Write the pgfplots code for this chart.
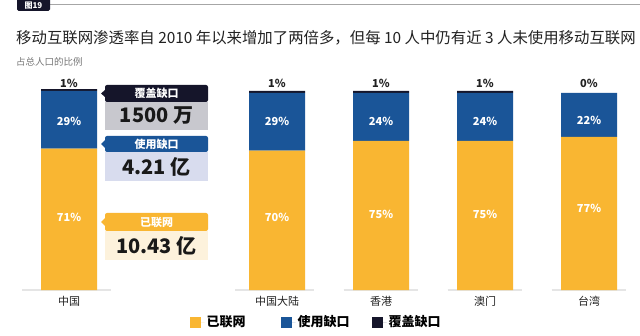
\documentclass[border=0pt]{standalone}
\usepackage{pgfplots}
\pgfplotsset{compat=1.18}
\usepackage{fontspec}
\setmainfont{Noto Sans CJK SC}
\definecolor{cyel}{HTML}{F9B632}
\definecolor{cblue}{HTML}{1A5598}
\definecolor{cdark}{HTML}{15152A}
\definecolor{cgraybox}{HTML}{C8C8CE}
\definecolor{clav}{HTML}{D8DCEE}
\definecolor{ccream}{HTML}{FDF2DC}
\definecolor{ctext}{HTML}{222222}
\definecolor{csub}{HTML}{777777}
\pgfplotsset{geom/.style={
  at={(17pt,45pt)}, anchor=south west, scale only axis,
  width=613.6pt, height=199pt,
  xmin=-0.5, xmax=5.4, ymin=0, ymax=100, clip=false}}
\begin{document}
\begin{tikzpicture}[x=1pt,y=1pt]
\useasboundingbox (0,0) rectangle (640,335);
\fill[white] (0,0) rectangle (640,335);
% badge and rule
\draw[gray!70, line width=0.8pt] (50,331) -- (640,331);
\fill[cdark, rounded corners=1.5pt] (17,324) rectangle (50,338);
\node[text=white, font=\bfseries\fontsize{8}{8}\selectfont] at (33.5,329.5) {图19};
% title
\node[anchor=west, inner sep=0, text=ctext, font=\fontsize{15.4}{15.4}\selectfont] at (16,297) {移动互联网渗透率自 2010 年以来增加了两倍多，但每 10 人中仍有近 3 人未使用移动互联网};
\node[anchor=west, inner sep=0, text=csub, font=\fontsize{9.5}{9.5}\selectfont] at (16,273) {占总人口的比例};

\begin{axis}[geom,
  ybar stacked, bar width=56pt,
  hide y axis,
  axis x line*=bottom, x axis line style={draw=none},
  xtick={0,2,3,4,5}, xticklabels={中国,中国大陆,香港,澳门,台湾},
  major tick length=0pt,
  xticklabel style={font=\fontsize{11}{11}\selectfont, text=ctext, yshift=-3pt},
  legend style={at={(rel axis cs:0.494,-0.161)}, anchor=center, draw=none, fill=none,
    legend columns=3, font=\bfseries\fontsize{13}{13}\selectfont,
    /tikz/every even column/.append style={column sep=12.1pt}},
  legend image code/.code={\fill[#1] (-8pt,-5.5pt) rectangle (3pt,5.5pt); \path (3pt,0pt) -- (7pt,0pt);},
]
\addplot[fill=cyel, draw=none] coordinates {(0,71) (2,70) (3,75) (4,75) (5,77)};
\addplot[fill=cblue, draw=none] coordinates {(0,29) (2,29) (3,24) (4,24) (5,22)};
\addplot[fill=cdark, draw=none] coordinates {(0,1) (2,1) (3,1) (4,1) (5,0)};
\legend{\makebox[60pt][l]{已联网},\makebox[60pt][l]{使用缺口},\makebox[60pt][l]{覆盖缺口}}
\draw[black!10, line width=1.2pt] (axis cs:-0.45,0) -- (axis cs:0.4,0);
\draw[black!10, line width=1.2pt] (axis cs:1.6,0) -- (axis cs:2.36,0);
\draw[black!10, line width=1.2pt] (axis cs:2.64,0) -- (axis cs:3.36,0);
\draw[black!10, line width=1.2pt] (axis cs:3.64,0) -- (axis cs:4.36,0);
\draw[black!10, line width=1.2pt] (axis cs:4.64,0) -- (axis cs:5.36,0);
\end{axis}

\begin{axis}[geom, hide axis]
\addplot[draw=none, mark=none, nodes near coords, point meta=explicit symbolic,
  every node near coord/.append style={anchor=center, text=white, font=\bfseries\fontsize{11}{11}\selectfont}]
  coordinates {(0,36.5)[71\%] (2,36.5)[70\%] (3,38)[75\%] (4,38)[75\%] (5,41)[77\%]};
\addplot[draw=none, mark=none, nodes near coords, point meta=explicit symbolic,
  every node near coord/.append style={anchor=center, text=white, font=\bfseries\fontsize{11}{11}\selectfont}]
  coordinates {(0,84.5)[29\%] (2,84.5)[29\%] (3,84.5)[24\%] (4,84.5)[24\%] (5,85)[22\%]};
\addplot[draw=none, mark=none, nodes near coords, point meta=explicit symbolic,
  every node near coord/.append style={anchor=center, text=ctext, font=\bfseries\fontsize{11}{11}\selectfont}]
  coordinates {(0,104)[1\%] (2,104)[1\%] (3,104)[1\%] (4,104)[1\%] (5,104)[0\%]};
\end{axis}

% callouts
\fill[cdark, rounded corners=2pt] (105,233) rectangle (208,250);
\fill[cdark] (105,245) -- (101,241.5) -- (105,238) -- cycle;
\fill[cgraybox] (105,205) rectangle (208,233);
\node[text=white, font=\bfseries\fontsize{11}{11}\selectfont] at (156.5,241.5) {覆盖缺口};
\node[text=black!90, font=\bfseries\fontsize{20}{20}\selectfont] at (156.5,219) {1500 万};

\fill[cblue, rounded corners=2pt] (105,183) rectangle (208,199);
\fill[cblue] (105,195) -- (101,191) -- (105,187) -- cycle;
\fill[clav] (105,154) rectangle (208,183);
\node[text=white, font=\bfseries\fontsize{11}{11}\selectfont] at (156.5,191) {使用缺口};
\node[text=black!90, font=\bfseries\fontsize{20}{20}\selectfont] at (156.5,168.5) {4.21 亿};

\fill[cyel, rounded corners=2pt] (105,104) rectangle (208,122);
\fill[cyel] (105,117) -- (101,113) -- (105,109) -- cycle;
\fill[ccream] (105,75) rectangle (208,104);
\node[text=white, font=\bfseries\fontsize{11}{11}\selectfont] at (156.5,113) {已联网};
\node[text=black!90, font=\bfseries\fontsize{20}{20}\selectfont] at (156.5,89.5) {10.43 亿};
\end{tikzpicture}
\end{document}
